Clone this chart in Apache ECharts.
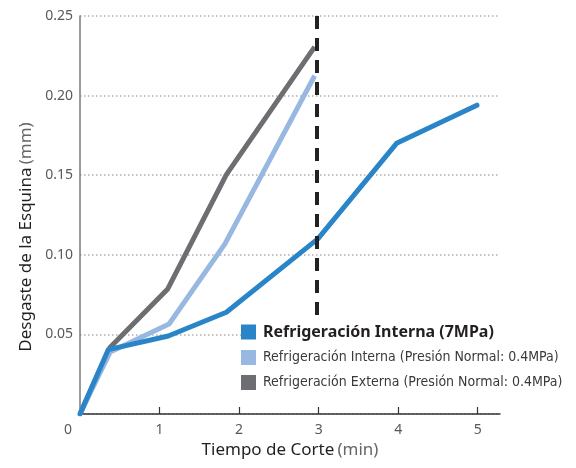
<!DOCTYPE html>
<html>
<head>
<meta charset="utf-8">
<script src="https://cdn.jsdelivr.net/npm/echarts@6/dist/echarts.min.js"></script>
<style>html,body{margin:0;padding:0;background:#fff}#c{width:576px;height:468px}</style>
</head>
<body>
<div id="c"></div>
<script>
// ---- data ----
const seriesNames = [
  'Refrigeración Interna (7MPa)',
  'Refrigeración Interna (Presión Normal: 0.4MPa)',
  'Refrigeración Externa (Presión Normal: 0.4MPa)'
];
const internal7X = [0, 0.355, 1.11, 1.84, 2.99, 3.98, 4.99];
const internal7Y = [0, 0.0404, 0.049, 0.0639, 0.110, 0.170, 0.194];
const internalNormX = [0, 0.38, 1.12, 1.82, 2.95];
const internalNormY = [0, 0.039, 0.0565, 0.1067, 0.2125];
const externalNormX = [0, 0.38, 1.10, 1.84, 2.95];
const externalNormY = [0, 0.042, 0.0783, 0.1504, 0.2306];
const xTickValues = [1, 2, 3, 4, 5];
const xLabelValues = [0, 1, 2, 3, 4, 5];
const limitX = 2.97;           // dashed reference line (min)
const limitYRange = [0.25, 0.06];
const xName = ['Tiempo de Corte', '(min)'];
const yName = ['Desgaste de la Esquina', '(mm)'];

function pairs(xs, ys) { return xs.map((x, i) => [x, ys[i]]); }

const FONT = "'Noto Sans', sans-serif";
const NARROW = "'Liberation Sans Narrow', 'DejaVu Sans Condensed', 'Noto Sans', sans-serif";
const colors = ['#2a85c8', '#98b8e1', '#6d6e71'];

const chart = echarts.init(document.getElementById('c'), null, { renderer: 'canvas' });
chart.setOption({
  animation: false,
  backgroundColor: '#fff',
  textStyle: { fontFamily: FONT },
  grid: { left: 80, right: 76, top: 16, bottom: 54, containLabel: false },
  legend: {
    orient: 'vertical',
    left: 241,
    top: 322,
    padding: [2, 0, 2, 0],
    backgroundColor: '#fff',
    itemWidth: 15,
    itemHeight: 15,
    itemGap: 10,
    icon: 'rect',
    data: [
      { name: seriesNames[0], textStyle: { fontSize: 16, fontWeight: 'bold', color: '#231f20', fontFamily: FONT, lineHeight: 15, padding: [0,0,0,2] } },
      { name: seriesNames[1], textStyle: { fontSize: 14, color: '#3a3a3c', fontFamily: NARROW, lineHeight: 15, padding: [0,0,0,2] } },
      { name: seriesNames[2], textStyle: { fontSize: 14, color: '#3a3a3c', fontFamily: NARROW, lineHeight: 15, padding: [0,0,0,2] } }
    ]
  },
  xAxis: {
    type: 'value',
    min: 0,
    max: 5.28,
    interval: 1,
    name: '{b|' + xName[0] + '} {n|' + xName[1] + '}',
    nameLocation: 'middle',
    nameGap: 26,
    nameTextStyle: {
      rich: {
        b: { fontSize: 17, color: '#231f20', fontFamily: FONT },
        n: { fontSize: 17, color: '#666', fontFamily: FONT }
      }
    },
    splitLine: { show: false },
    axisLine: { show: true, lineStyle: { color: '#333', width: 1.5 } },
    axisTick: { show: true, inside: true, length: 7, customValues: xTickValues, lineStyle: { color: '#333', width: 1.2 } },
    axisLabel: {
      customValues: xLabelValues,
      margin: 9,
      fontSize: 14,
      color: '#58595b',
      formatter: function (v) { return v === 0 ? '{z|0}' : String(v); },
      rich: { z: { fontSize: 14, color: '#58595b', padding: [0, 24, 0, 0], fontFamily: FONT } }
    }
  },
  yAxis: {
    type: 'value',
    min: 0,
    max: 0.25,
    interval: 0.05,
    name: '{b|' + yName[0] + '} {n|' + yName[1] + '}',
    nameLocation: 'middle',
    nameGap: 42,
    nameTextStyle: {
      padding: [0, 44, 0, 0],
      rich: {
        b: { fontSize: 17, color: '#231f20', fontFamily: FONT },
        n: { fontSize: 17, color: '#666', fontFamily: FONT }
      }
    },
    axisLine: { show: true, lineStyle: { color: '#7a7a7a', width: 1.5 } },
    axisTick: { show: false },
    splitLine: { show: true, lineStyle: { color: '#b0b0b0', type: [1.5, 2.5], width: 1.5 } },
    axisLabel: {
      margin: 7,
      fontSize: 14,
      color: '#58595b',
      formatter: function (v) { return v === 0 ? '' : v.toFixed(2); }
    }
  },
  series: [
    {
      name: seriesNames[2], type: 'line', data: pairs(externalNormX, externalNormY),
      symbol: 'none', color: colors[2], z: 2,
      lineStyle: { width: 5, color: colors[2], join: 'round' }
    },
    {
      name: seriesNames[1], type: 'line', data: pairs(internalNormX, internalNormY),
      symbol: 'none', color: colors[1], z: 3,
      lineStyle: { width: 5, color: colors[1], join: 'round' }
    },
    {
      name: seriesNames[0], type: 'line', data: pairs(internal7X, internal7Y),
      symbol: 'none', color: colors[0], z: 4,
      lineStyle: { width: 5, color: colors[0], join: 'round', cap: 'round' },
      markLine: {
        silent: true,
        symbol: 'none',
        label: { show: false },
        lineStyle: { color: '#222', width: 4, type: [13, 9] },
        data: [[{ coord: [limitX, limitYRange[0]] }, { coord: [limitX, limitYRange[1]] }]]
      }
    }
  ]
});
</script>
</body>
</html>
